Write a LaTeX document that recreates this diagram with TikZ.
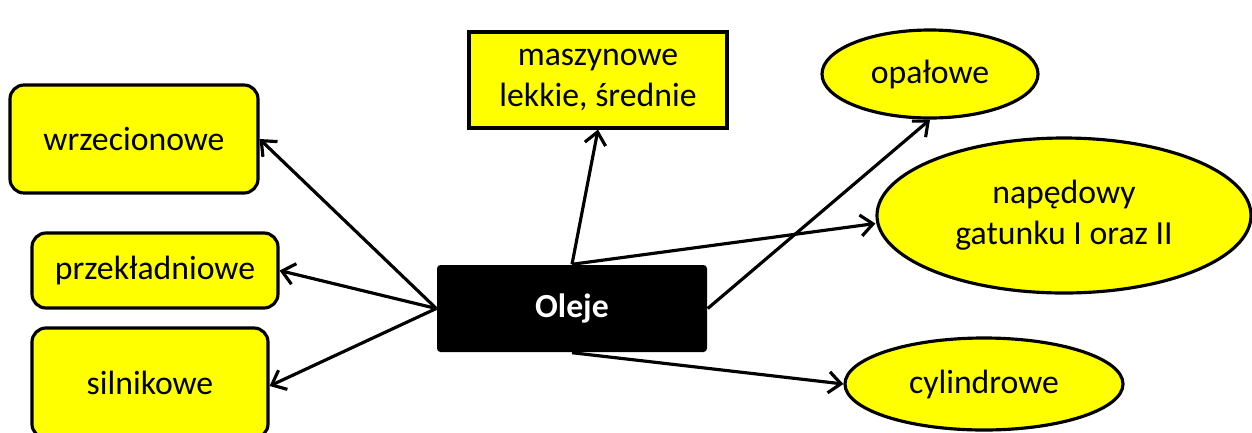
\documentclass[tikz,border=0pt]{standalone}
\usepackage{fontspec}
\setmainfont{Carlito}
\usetikzlibrary{shapes.geometric,arrows.meta}
\definecolor{leafyellow}{RGB}{255,255,0}
\tikzset{
  leaf/.style={draw=black, fill=leafyellow, line width=0.9pt, inner sep=0pt,
    align=center, font=\fontsize{9.6}{11.6}\selectfont},
  roundleaf/.style={leaf, rectangle, rounded corners=4pt},
  squareleaf/.style={leaf, rectangle},
  ovalleaf/.style={leaf, ellipse},
  hub/.style={rectangle, fill=black, rounded corners=1pt, inner sep=0pt,
    text=white, font=\fontsize{9.6}{11.6}\selectfont\bfseries},
  branch/.style={line width=0.9pt, -{Straight Barb[length=3.5pt,width=6pt]}}
}
\begin{document}
\begin{tikzpicture}
\useasboundingbox (0,0) rectangle (12.52,4.32);
\clip (0,0) rectangle (12.52,4.32);
% centre box
\node[hub, minimum width=2.70cm, minimum height=0.87cm] (oleje) at (5.72,1.235) {Oleje};
% left side
\node[roundleaf, minimum width=2.48cm, minimum height=1.08cm] (wrzec) at (1.34,2.93) {wrzecionowe};
\node[roundleaf, minimum width=2.46cm, minimum height=0.75cm] (przekl) at (1.55,1.615) {przekładniowe};
\node[roundleaf, minimum width=2.36cm, minimum height=1.10cm] (silnik) at (1.50,0.49) {silnikowe};
% top
\node[squareleaf, minimum width=2.58cm, minimum height=0.96cm] (maszyn) at (5.98,3.52) {maszynowe\\lekkie, średnie};
% right side
\node[ovalleaf, minimum width=2.16cm, minimum height=0.88cm] (opal) at (9.30,3.58) {opałowe};
\node[ovalleaf, minimum width=3.74cm, minimum height=1.55cm] (naped) at (10.64,2.165) {napędowy\\gatunku I oraz II};
\node[ovalleaf, minimum width=2.78cm, minimum height=0.92cm] (cylin) at (9.84,0.48) {cylindrowe};
% arrows
\draw[branch] (oleje.west) -- (wrzec.east);
\draw[branch] (oleje.west) -- (przekl.east);
\draw[branch] (oleje.west) -- ([yshift=-0.03cm]silnik.east);
\draw[branch] (oleje.north) -- (maszyn.south);
\draw[branch] (oleje.north) -- ([yshift=-0.08cm]naped.west);
\draw[branch] (oleje.east) -- (opal.south);
\draw[branch] (oleje.south) -- (cylin.west);
\end{tikzpicture}
\end{document}
